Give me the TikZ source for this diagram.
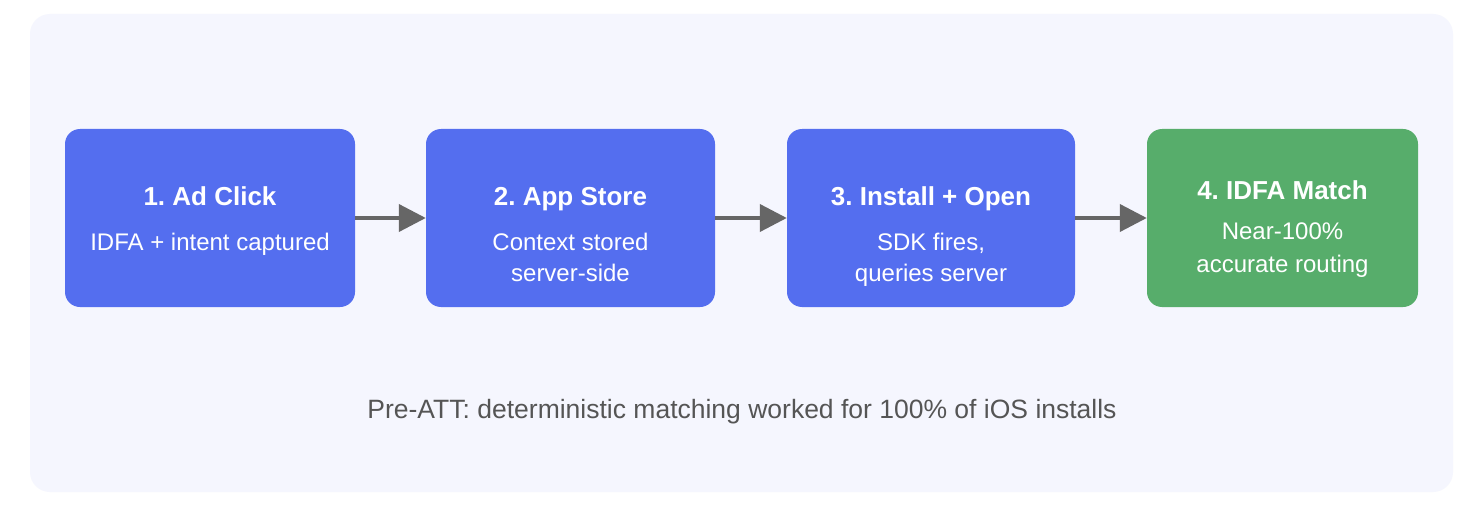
\documentclass[tikz,border=0pt]{standalone}
\usepackage{fontspec}
\setmainfont{Liberation Sans}
\usetikzlibrary{arrows.meta}
\frenchspacing
\definecolor{panelbg}{RGB}{245,246,254}
\definecolor{stepblue}{RGB}{84,110,239}
\definecolor{stepgreen}{RGB}{87,173,107}
\definecolor{arrowgray}{RGB}{102,102,102}
\definecolor{captiongray}{RGB}{85,85,85}
\tikzset{
  stepbox/.style={fill=stepblue, draw=none, rounded corners=15pt, minimum width=#1, minimum height=178pt, inner sep=0pt},
  donebox/.style={fill=stepgreen, draw=none, rounded corners=15pt, minimum width=#1, minimum height=178pt, inner sep=0pt},
  ttl/.style={text=white, font=\fontsize{26}{30}\selectfont\bfseries, anchor=base, inner sep=0pt},
  bdy/.style={text=white, font=\fontsize{24}{28}\selectfont, anchor=base, inner sep=0pt},
  flow/.style={draw=arrowgray, line width=4pt, -{Triangle[length=27pt,width=27pt]}},
}
\begin{document}
\begin{tikzpicture}[x=1pt,y=-1pt]
\useasboundingbox (0,0) rectangle (1482,508);
\fill[white] (0,0) rectangle (1482,508);
\fill[panelbg, rounded corners=20pt] (30,14) rectangle (1453,492);
% boxes
\node[stepbox=290pt] (b1) at (210,218) {};
\node[stepbox=289pt] (b2) at (570.5,218) {};
\node[stepbox=288pt] (b3) at (931,218) {};
\node[donebox=271pt] (b4) at (1282.5,218) {};
% texts
\node[ttl] (t1) at (210,205) {1. Ad Click};
\node[bdy] (d1) at (210,250) {IDFA + intent captured};
\node[ttl] (t2) at (570.5,205) {2. App Store};
\node[bdy] (d2a) at (570.5,250) {Context stored};
\node[bdy] (d2b) at (570.5,281) {server-side};
\node[ttl] (t3) at (931,205) {3. Install + Open};
\node[bdy] (d3a) at (931,250) {SDK fires,};
\node[bdy] (d3b) at (931,281) {queries server};
\node[ttl] (t4) at (1282.5,199) {4. IDFA Match};
\node[bdy] (d4a) at (1282.5,239) {Near-100\%};
\node[bdy] (d4b) at (1282.5,272) {accurate routing};
% arrows
\draw[flow] (b1.east) -- (b2.west);
\draw[flow] (b2.east) -- (b3.west);
\draw[flow] (b3.east) -- (b4.west);
% caption
\node[text=captiongray, font=\fontsize{26.5}{30}\selectfont, anchor=base, inner sep=0pt] (cap) at (742,418) {Pre-ATT: deterministic matching worked for 100\% of iOS installs};
\end{tikzpicture}
\end{document}
